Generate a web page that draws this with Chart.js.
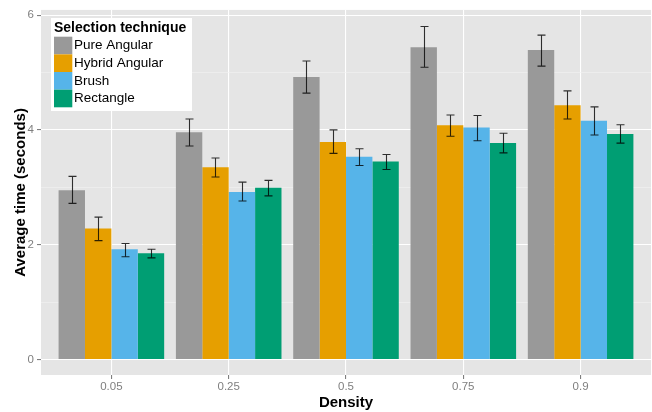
<!DOCTYPE html>
<html>
<head>
<meta charset="utf-8">
<script src="https://cdn.jsdelivr.net/npm/chart.js@4"></script>
<style>
  html, body { margin: 0; padding: 0; background: #fff; overflow: hidden; }
  #c { display: block; }
</style>
</head>
<body>
<canvas id="c" width="652" height="412"></canvas>
<script>
// densities on the x axis
const densities = ['0.05', '0.25', '0.5', '0.75', '0.9'];
const techniques = ['Pure Angular', 'Hybrid Angular', 'Brush', 'Rectangle'];
const colors = ['#999999', '#E69F00', '#56B4E9', '#009E73'];

// mean time (seconds) per technique
const pureAngular   = [2.95, 3.96, 4.92, 5.44, 5.39];
const hybridAngular = [2.28, 3.35, 3.79, 4.08, 4.43];
const brush         = [1.92, 2.92, 3.53, 4.04, 4.16];
const rectangle     = [1.85, 2.99, 3.45, 3.77, 3.93];

// error bar ends
const pureLow    = [2.72, 3.72, 4.64, 5.09, 5.11];
const pureHigh   = [3.19, 4.19, 5.20, 5.80, 5.65];
const hybridLow  = [2.07, 3.18, 3.59, 3.89, 4.19];
const hybridHigh = [2.48, 3.51, 4.00, 4.26, 4.68];
const brushLow   = [1.79, 2.76, 3.38, 3.81, 3.91];
const brushHigh  = [2.02, 3.09, 3.67, 4.25, 4.40];
const rectLow    = [1.77, 2.85, 3.31, 3.60, 3.77];
const rectHigh   = [1.92, 3.12, 3.57, 3.94, 4.09];

const yTicks = [0, 2, 4, 6];

const means = [pureAngular, hybridAngular, brush, rectangle];
const lows = [pureLow, hybridLow, brushLow, rectLow];
const highs = [pureHigh, hybridHigh, brushHigh, rectHigh];

const FONT = '"Liberation Sans", Arial, sans-serif';
const GREY_TEXT = '#7F7F7F';

const panelBg = {
  id: 'panelBg',
  beforeDraw(chart) {
    const { ctx, chartArea: a } = chart;
    ctx.save();
    ctx.fillStyle = '#E5E5E5';
    ctx.fillRect(a.left, a.top, a.right - a.left, a.bottom - a.top);
    ctx.restore();
  }
};

const errorBars = {
  id: 'errorBars',
  afterDatasetsDraw(chart) {
    const { ctx } = chart;
    const y = chart.scales.y;
    ctx.save();
    ctx.strokeStyle = 'rgba(0,0,0,0.8)';
    ctx.lineWidth = 1.1;
    means.forEach((_, i) => {
      const meta = chart.getDatasetMeta(i);
      meta.data.forEach((bar, j) => {
        const x = Math.round(bar.x) + 0.5;
        const top = y.getPixelForValue(highs[i][j]);
        const bot = y.getPixelForValue(lows[i][j]);
        ctx.beginPath();
        ctx.moveTo(x, top); ctx.lineTo(x, bot);
        ctx.moveTo(x - 4, top); ctx.lineTo(x + 4, top);
        ctx.moveTo(x - 4, bot); ctx.lineTo(x + 4, bot);
        ctx.stroke();
      });
    });
    ctx.restore();
  }
};

// ggplot-style legend inside the panel
const legendBox = {
  id: 'legendBox',
  afterDraw(chart) {
    const { ctx } = chart;
    const x0 = 51, y0 = 18;
    ctx.save();
    ctx.fillStyle = '#fff';
    ctx.fillRect(x0, y0, 141, 93);
    ctx.fillStyle = '#000';
    ctx.font = 'bold 14px ' + FONT;
    ctx.textBaseline = 'alphabetic';
    ctx.fillText('Selection technique', 54, 32);
    ctx.font = '13.5px ' + FONT;
    ctx.textBaseline = 'middle';
    chart.data.datasets.forEach((ds, i) => {
      const ry = 36.7 + i * 17.65;
      ctx.fillStyle = ds.backgroundColor;
      ctx.fillRect(54, ry, 18.3, 17.65);
      ctx.fillStyle = '#000';
      ctx.fillText(ds.label, 74, ry + 9);
    });
    ctx.restore();
  }
};

new Chart(document.getElementById('c'), {
  type: 'bar',
  data: {
    datasets: techniques.map((t, i) => ({
      label: t,
      data: means[i].map((v, j) => ({ x: j + 1, y: v })),
      backgroundColor: colors[i],
      borderWidth: 0,
      barPercentage: 1,
      categoryPercentage: 0.9
    }))
  },
  options: {
    responsive: false,
    animation: false,
    devicePixelRatio: 1,
    layout: { padding: { top: 8, right: 1, left: 0, bottom: 0 } },
    plugins: { legend: { display: false }, tooltip: { enabled: false } },
    scales: {
      x: {
        type: 'linear',
        min: 0.4,
        max: 5.6,
        offset: false,
        afterFit(s) { s.height = 37; },
        afterBuildTicks(s) { s.ticks = densities.map((_, j) => ({ value: j + 1 })); },
        ticks: {
          callback: (v) => densities[v - 1],
          color: GREY_TEXT,
          font: { family: FONT, size: 11.5 },
          padding: 1,
          maxRotation: 0
        },
        grid: { offset: false, color: '#FFFFFF', lineWidth: 1.1, tickColor: GREY_TEXT, tickLength: 4 },
        border: { display: false },
        title: {
          display: true,
          text: 'Density',
          color: '#000',
          font: { family: FONT, size: 15, weight: 'bold' },
          padding: { top: 0, bottom: 0 }
        }
      },
      y: {
        min: -0.27,
        max: 6.09,
        afterFit(s) { s.width = 41; },
        afterBuildTicks(s) { s.ticks = [0, 1, 2, 3, 4, 5, 6].map(v => ({ value: v })); },
        ticks: {
          callback: (v) => yTicks.includes(v) ? String(v) : '',
          color: GREY_TEXT,
          font: { family: FONT, size: 11.5 },
          padding: 3
        },
        grid: {
          color: (c) => yTicks.includes(c.tick.value) ? '#FFFFFF' : '#F2F2F2',
          lineWidth: (c) => yTicks.includes(c.tick.value) ? 1.1 : 0.6,
          tickColor: (c) => yTicks.includes(c.tick.value) ? GREY_TEXT : 'rgba(0,0,0,0)',
          tickLength: 4
        },
        border: { display: false },
        title: {
          display: true,
          text: 'Average time (seconds)',
          color: '#000',
          font: { family: FONT, size: 15, weight: 'bold' },
          padding: { top: 12, bottom: 0 }
        }
      }
    }
  },
  plugins: [panelBg, errorBars, legendBox]
});
</script>
</body>
</html>
